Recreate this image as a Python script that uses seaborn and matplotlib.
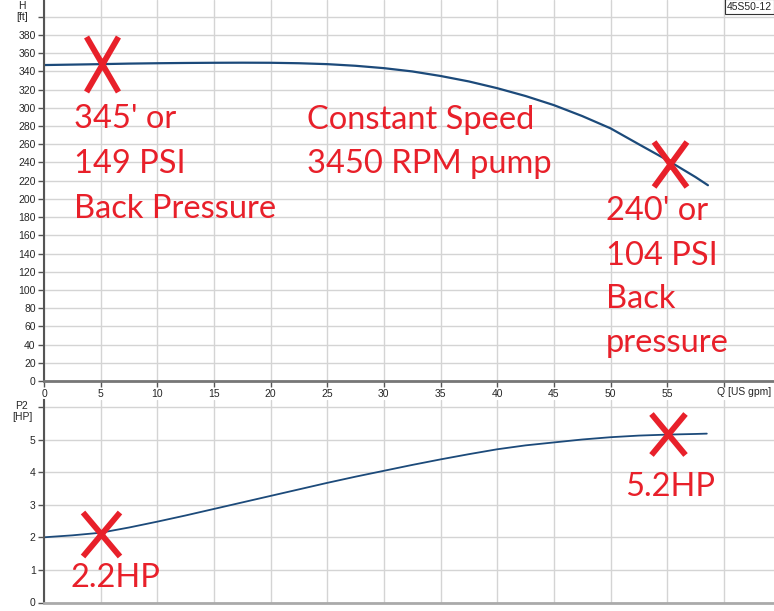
import numpy as np
import pandas as pd
import matplotlib
matplotlib.use("Agg")
import matplotlib.pyplot as plt
import seaborn as sns
from matplotlib.path import Path

# ---- data ----
q_flow = [0, 2.5, 5, 7.5, 10, 12.5, 15, 17.5, 20, 22.5, 25, 27.5, 30, 32.5, 35,
          37.5, 40, 42.5, 45, 47.5, 50, 52.5, 55, 57.5, 58.6]
head_ft = [347, 347.5, 348, 348.6, 349, 349.3, 349.5, 349.6, 349.5, 349, 348, 346.2,
           343.6, 340, 335, 329, 321.6, 313, 303, 291, 277.5, 260, 242.7, 224, 215]
q_flow_p = [0, 2.5, 5, 7.5, 10, 12.5, 15, 17.5, 20, 22.5, 25, 27.5, 30, 32.5, 35,
            37.5, 40, 42.5, 45, 47.5, 50, 52.5, 55, 57.5, 58.5]
power_hp = [2.0, 2.06, 2.14, 2.3, 2.48, 2.67, 2.87, 3.07, 3.27, 3.47, 3.67, 3.86,
            4.04, 4.22, 4.39, 4.55, 4.70, 4.82, 4.91, 5.0, 5.07, 5.12, 5.15, 5.17, 5.18]
q_ticks = [0, 5, 10, 15, 20, 25, 30, 35, 40, 45, 50, 55, 60]
h_ticks = list(range(0, 401, 20))
p_ticks = [0, 1, 2, 3, 4, 5, 6]

sns.set_style("whitegrid")
plt.rcParams['font.family'] = ['Liberation Sans', 'DejaVu Sans']

W, H = 774, 611
fig = plt.figure(figsize=(W / 100, H / 100), dpi=100)

def rect(x0, y0, x1, y1):
    return [x0 / W, 1 - y1 / H, (x1 - x0) / W, (y1 - y0) / H]

ax1 = fig.add_axes(rect(44, 0, 774, 381))
ax2 = fig.add_axes(rect(44, 400, 774, 602.5))

df_h = pd.DataFrame({"Q": q_flow, "H": head_ft})
df_p = pd.DataFrame({"Q": q_flow_p, "P2": power_hp})
line_col = "#1c4a7a"
sns.lineplot(data=df_h, x="Q", y="H", ax=ax1, color=line_col, lw=1.6)
sns.lineplot(data=df_p, x="Q", y="P2", ax=ax2, color=line_col, lw=1.3)

xmax = (774 - 44) / 11.33
for ax in (ax1, ax2):
    ax.set_xlim(0, xmax)
    ax.set_xticks(q_ticks)
    ax.grid(True, color="#d4d4d4", lw=1.0)
    ax.set_xlabel("")
    ax.set_ylabel("")
    for s in ("top", "right"):
        ax.spines[s].set_visible(False)
    ax.spines["left"].set_color("#555555")
    ax.spines["left"].set_linewidth(1.5)
    ax.spines["bottom"].set_color("#777777")
    ax.spines["bottom"].set_linewidth(2)
    ax.tick_params(axis="both", length=4, width=1, color="#555555",
                   labelsize=7.5, pad=2, left=True, bottom=True)

ax1.set_ylim(0, 381 / 0.9105)
ax1.set_yticks(h_ticks)
ax1.set_yticklabels([str(t) if t < 400 else "" for t in h_ticks])
ax1.set_xticklabels([str(t) if t < 60 else "" for t in q_ticks])

ax2.set_ylim(0, 202.5 / 32.6)
ax2.set_yticks(p_ticks)
ax2.set_yticklabels([str(t) if t < 6 else "" for t in p_ticks])
ax2.set_xticklabels([])
ax2.tick_params(axis="x", length=0)
ax2.spines["bottom"].set_color("#aaaaaa")

# axis labels
fig.text(22 / W, 1 - 1 / H, "H\n[ft]", ha="center", va="top", fontsize=7.5, linespacing=1.1)
fig.text(22 / W, 1 - 401 / H, "P2\n[HP]", ha="center", va="top", fontsize=7.5, linespacing=1.1)
fig.text(717 / W, 1 - 387 / H, "Q [US gpm]", ha="left", va="top", fontsize=7.5)
fig.text(727 / W, 1 - 1.5 / H, "45S50-12", ha="left", va="top", fontsize=7.5,
         bbox=dict(boxstyle="square,pad=0.2", fc="white", ec="#333333", lw=0.8))

# red X marks: (axis, q, value, height px, width/height)
red = "#e8202a"
marks = [(ax1, 5.1, 348, 55, 0.58), (ax1, 55.25, 238, 45, 0.73),
         (ax2, 5.07, 2.1, 44, 0.84), (ax2, 55.07, 5.17, 41, 0.83)]
for ax, mq, mv, hpx, asp in marks:
    xpath = Path([(-asp, -1), (asp, 1), (-asp, 1), (asp, -1)],
                 [Path.MOVETO, Path.LINETO, Path.MOVETO, Path.LINETO])
    ax.plot([mq], [mv], ls="none", marker=xpath, ms=hpx / 1.389, mew=4.2, color=red)

tf = dict(color=red, fontsize=23.5, family=["Lato", "DejaVu Sans"], ha="left", va="baseline")
labels = [
    (74, [(128.3, "345' or"), (173.3, "149 PSI"), (217.7, "Back Pressure")]),
    (307, [(129, "Constant Speed"), (173, "3450 RPM pump")]),
    (606, [(220, "240' or"), (265, "104 PSI"), (308.5, "Back"), (351.7, "pressure")]),
    (70, [(587.3, "2.2HP")]),
    (625, [(496.5, "5.2HP")]),
]
for x0, lines in labels:
    for yb, txt in lines:
        fig.text(x0 / W, 1 - yb / H, txt, **tf)

fig.savefig("out.png", dpi=100)
